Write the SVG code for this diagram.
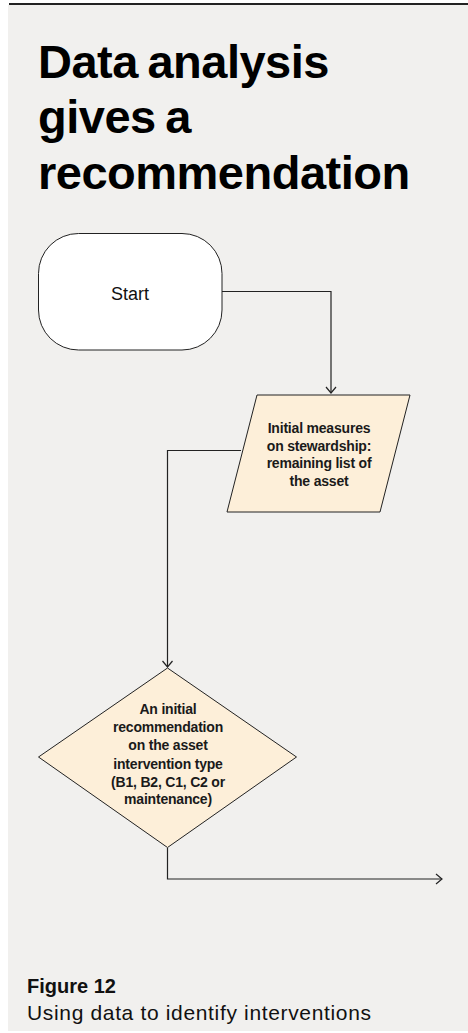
<svg xmlns="http://www.w3.org/2000/svg" width="468" height="1033" viewBox="0 0 468 1033">
  <style>
    .title { font-family: "Liberation Sans", Arial, sans-serif; font-weight: bold; font-size: 47px; fill: #000; letter-spacing: -0.5px; word-spacing: -3px; }
    .node-text { font-family: "Liberation Sans", Arial, sans-serif; font-weight: bold; font-size: 14px; fill: #1a1a1a; text-anchor: middle; letter-spacing: -0.2px; }
    .start-text { font-family: "Liberation Sans", Arial, sans-serif; font-size: 18px; fill: #111; text-anchor: middle; }
    .cap-head { font-family: "Liberation Sans", Arial, sans-serif; font-weight: bold; font-size: 20px; fill: #111; }
    .cap-body { font-family: "Liberation Sans", Arial, sans-serif; font-size: 21px; fill: #111; }
    .shape { stroke: #222; stroke-width: 1; }
    .cream { fill: #fdefd9; }
    .edge { fill: none; stroke: #222; stroke-width: 1.2; }
  </style>
  <defs>
    <marker id="arrow" viewBox="0 0 12 12" refX="11" refY="6" markerWidth="12" markerHeight="12" markerUnits="userSpaceOnUse" orient="auto">
      <path d="M5,1 L11,6 L5,11" fill="none" stroke="#222" stroke-width="1.2"/>
    </marker>
  </defs>

  <!-- page panel and top rule -->
  <rect x="0" y="0" width="468" height="1033" fill="#ffffff"/>
  <rect x="8" y="5" width="460" height="1026" fill="#f1f0ee"/>
  <line x1="9" y1="4" x2="468" y2="4" stroke="#222" stroke-width="2"/>

  <!-- heading -->
  <g id="heading">
    <text class="title" x="38" y="78">Data analysis</text>
    <text class="title" x="38" y="133">gives a</text>
    <text class="title" x="38" y="189">recommendation</text>
  </g>

  <!-- connectors -->
  <g id="connectors">
    <path class="edge" d="M222,291.5 H331 V393" marker-end="url(#arrow)"/>
    <path class="edge" d="M241,450.5 H167.5 V667" marker-end="url(#arrow)"/>
    <path class="edge" d="M167.5,848 V879 H442" marker-end="url(#arrow)"/>
  </g>

  <!-- start terminal -->
  <g id="node-start">
    <rect class="shape" x="38.5" y="233.5" width="183.5" height="116.5" rx="40" ry="40" fill="#ffffff"/>
    <text class="start-text" x="130" y="300">Start</text>
  </g>

  <!-- stewardship input -->
  <g id="node-stewardship">
    <polygon class="shape cream" points="257,395 410,395 380,512 227,512"/>
    <text class="node-text" x="319" y="433">Initial measures</text>
    <text class="node-text" x="319" y="450.5">on stewardship:</text>
    <text class="node-text" x="319" y="468">remaining list of</text>
    <text class="node-text" x="319" y="485.5">the asset</text>
  </g>

  <!-- recommendation decision -->
  <g id="node-recommendation">
    <polygon class="shape cream" points="167.5,668 296.5,757 167.5,847.5 38.5,757"/>
    <text class="node-text" x="168" y="714">An initial</text>
    <text class="node-text" x="168" y="732">recommendation</text>
    <text class="node-text" x="168" y="750">on the asset</text>
    <text class="node-text" x="168" y="768.5">intervention type</text>
    <text class="node-text" x="168" y="786.5">(B1, B2, C1, C2 or</text>
    <text class="node-text" x="168" y="804">maintenance)</text>
  </g>

  <!-- caption -->
  <g id="caption">
    <text class="cap-head" x="27" y="993">Figure 12</text>
    <text class="cap-body" x="27" y="1020" textLength="344" lengthAdjust="spacing">Using data to identify interventions</text>
  </g>
</svg>
